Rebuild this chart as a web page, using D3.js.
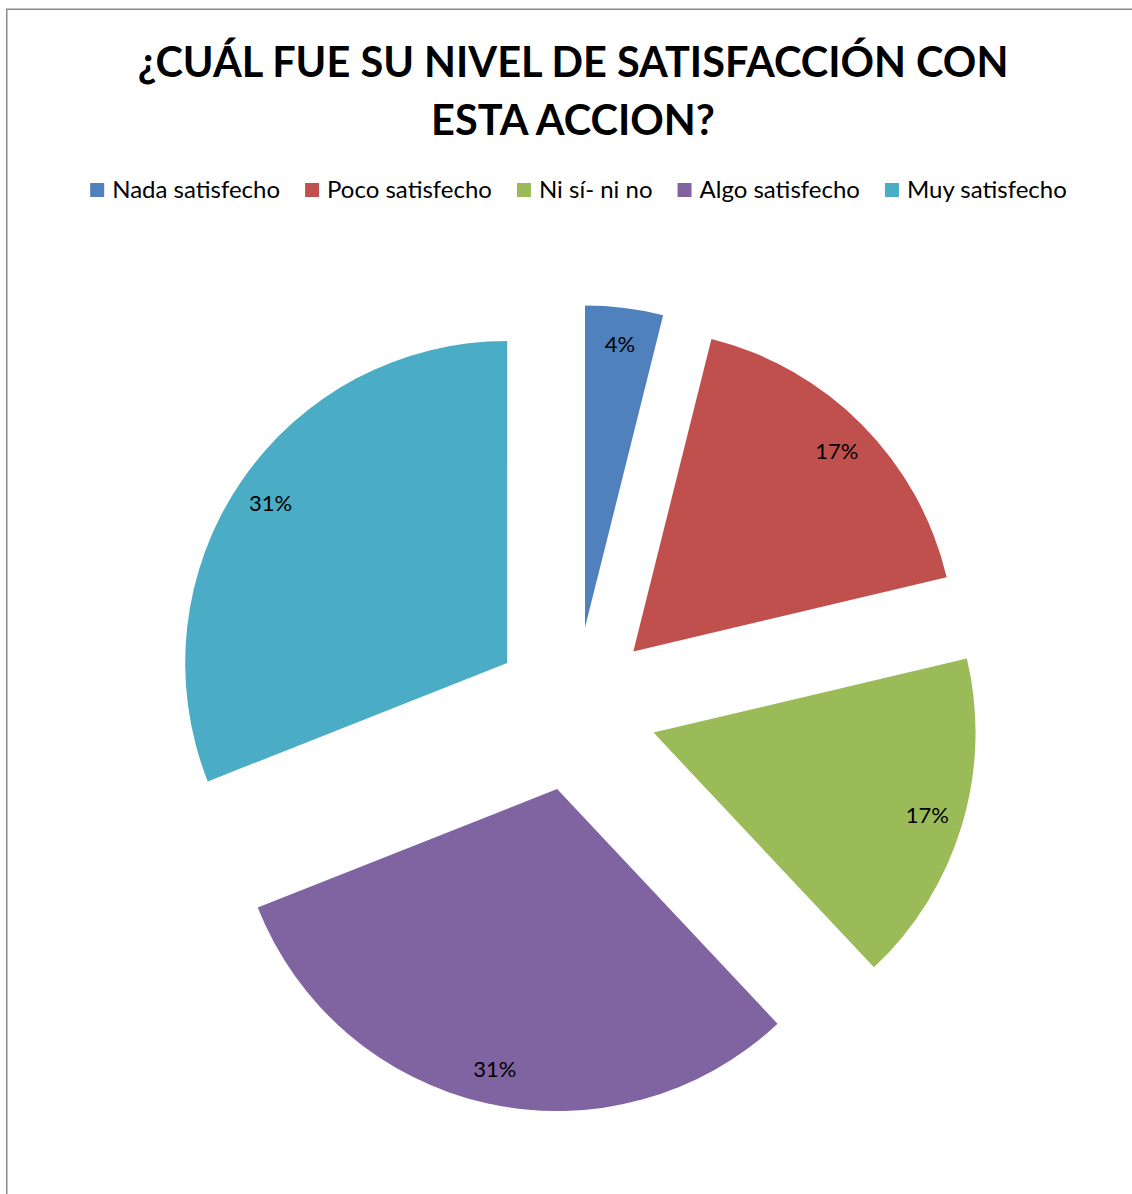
<!DOCTYPE html>
<html>
<head>
<meta charset="utf-8">
<script src="https://cdn.jsdelivr.net/npm/d3@7"></script>
<style>
  html, body { margin: 0; padding: 0; background: #fff; }
  svg { display: block; }
</style>
</head>
<body>
<svg id="chart" width="1132" height="1194"></svg>
<script>
// data
const titleLines = ['¿CUÁL FUE SU NIVEL DE SATISFACCIÓN CON', 'ESTA ACCION?'];
const categories = ['Nada satisfecho', 'Poco satisfecho', 'Ni sí- ni no', 'Algo satisfecho', 'Muy satisfecho'];
const values = [3.9, 17.4, 16.7, 31, 31];
const colors = ['#4F81BD', '#C0504D', '#9BBB59', '#8064A2', '#4BACC6'];

const svg = d3.select('svg#chart'),
  width = 1132,
  height = 1194;

const fontFamily = 'Lato, "Open Sans", sans-serif',
  centerX = 575,
  centerY = 709,
  radius = 322,
  explode = 82,
  labelRadius = 286;

const total = d3.sum(values);

// chart border (runs past the right and bottom of the picture)
svg.append('rect')
  .attr('x', 6.75)
  .attr('y', 9.25)
  .attr('width', width + 50)
  .attr('height', height + 50)
  .attr('fill', 'none')
  .attr('stroke', '#8a8a8a')
  .attr('stroke-width', 1.5);

// title
svg.append('g')
  .selectAll('text')
  .data(titleLines)
  .join('text')
  .attr('x', 573)
  .attr('y', (d, i) => 77 + i * 58)
  .attr('text-anchor', 'middle')
  .attr('font-family', fontFamily)
  .attr('font-weight', 'bold')
  .attr('font-size', 41.5)
  .attr('fill', '#000')
  .text(d => d);

// legend, laid out left to right then centred
const legend = svg.append('g');
const legendFont = 24,
  swatch = 14,
  swatchGap = 8,
  itemGap = 25;

let cursor = 0;
categories.forEach(function(name, i) {
  const item = legend.append('g').attr('transform', `translate(${cursor},0)`);
  item.append('rect')
    .attr('x', 0)
    .attr('y', -15)
    .attr('width', swatch)
    .attr('height', swatch)
    .attr('fill', colors[i]);
  const t = item.append('text')
    .attr('x', swatch + swatchGap)
    .attr('y', 0)
    .attr('font-family', fontFamily)
    .attr('font-size', legendFont)
    .attr('fill', '#000')
    .text(name);
  cursor += swatch + swatchGap + t.node().getComputedTextLength() + itemGap;
});
const legendWidth = cursor - itemGap;
legend.attr('transform', `translate(${578.5 - legendWidth / 2},198)`);

// exploded pie
const pie = d3.pie().sort(null).value(d => d);
const arcs = pie(values);

const arc = d3.arc().innerRadius(0).outerRadius(radius);
const labelArc = d3.arc().innerRadius(labelRadius).outerRadius(labelRadius);

function offset(d) {
  const mid = (d.startAngle + d.endAngle) / 2;
  return [Math.sin(mid) * explode, -Math.cos(mid) * explode];
}

const slices = svg.append('g')
  .attr('transform', `translate(${centerX},${centerY})`)
  .selectAll('g')
  .data(arcs)
  .join('g')
  .attr('transform', d => {
    const o = offset(d);
    return `translate(${o[0]},${o[1]})`;
  });

slices.append('path')
  .attr('d', arc)
  .attr('fill', (d, i) => colors[i]);

slices.append('text')
  .attr('transform', d => `translate(${labelArc.centroid(d)})`)
  .attr('text-anchor', 'middle')
  .attr('dominant-baseline', 'central')
  .attr('font-family', fontFamily)
  .attr('font-size', 22)
  .attr('fill', '#000')
  .text(d => Math.round(d.data / total * 100) + '%');
</script>
</body>
</html>
